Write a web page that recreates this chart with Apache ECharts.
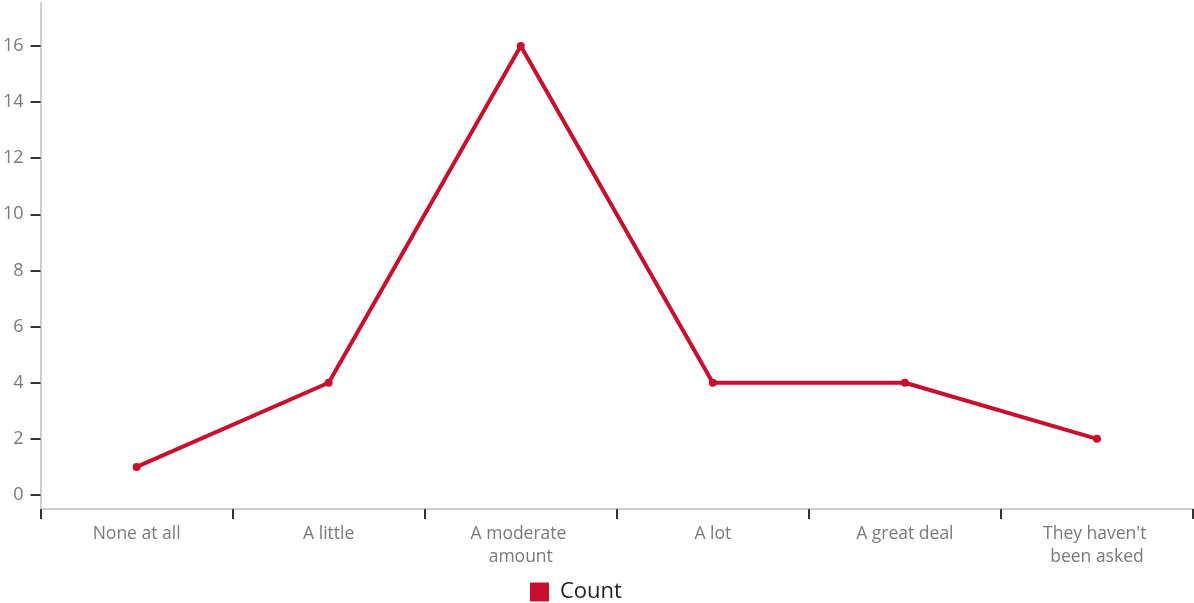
<!DOCTYPE html>
<html>
<head>
<meta charset="utf-8">
<script src="https://cdn.jsdelivr.net/npm/echarts@6/dist/echarts.min.js"></script>
<style>
  html, body { margin: 0; padding: 0; background: #fff; }
  #chart { width: 1194px; height: 603px; }
</style>
</head>
<body>
<div id="chart"></div>
<script>
// Survey answer categories and how many respondents chose each
const categories = ['None at all', 'A little', 'A moderate amount', 'A lot', 'A great deal', "They haven't been asked"];
const counts = [1, 4, 16, 4, 4, 2];
const yTicks = [0, 2, 4, 6, 8, 10, 12, 14, 16];
const seriesName = 'Count';

const red = '#c8102e';
const labelGray = '#7a7a7a';
const fontFamily = '"Open Sans", "Noto Sans", sans-serif';

const chart = echarts.init(document.getElementById('chart'));
chart.setOption({
  animation: false,
  grid: { left: 40, right: 1, top: 3, bottom: 85, containLabel: false },
  legend: {
    data: [{ name: seriesName, icon: 'rect' }],
    top: 576,
    left: 525,
    itemWidth: 19,
    itemHeight: 19,
    itemGap: 10,
    textStyle: { fontSize: 22, color: '#222', fontFamily: fontFamily, padding: [0, 0, 0, 6] }
  },
  xAxis: {
    type: 'category',
    data: categories,
    boundaryGap: true,
    offset: -9,
    axisLine: { onZero: false, lineStyle: { color: '#d0d0d0', width: 2 } },
    axisTick: { show: true, interval: 0, length: 10, lineStyle: { color: '#333', width: 2 } },
    axisLabel: {
      interval: 0,
      margin: 14,
      fontSize: 17.5,
      lineHeight: 23,
      color: labelGray,
      fontFamily: fontFamily,
      width: 135,
      overflow: 'break'
    }
  },
  yAxis: {
    type: 'value',
    min: -0.82,
    max: 17.53,
    splitLine: { show: false },
    axisLine: { show: true, lineStyle: { color: '#d0d0d0', width: 2 } },
    axisTick: { show: true, length: 10, customValues: yTicks, lineStyle: { color: '#333', width: 2 } },
    axisLabel: { customValues: yTicks, margin: 17, fontSize: 18, color: labelGray, fontFamily: fontFamily }
  },
  series: [{
    name: seriesName,
    type: 'line',
    data: counts,
    symbol: 'circle',
    symbolSize: 8,
    lineStyle: { color: red, width: 4 },
    itemStyle: { color: red }
  }]
});
</script>
</body>
</html>
